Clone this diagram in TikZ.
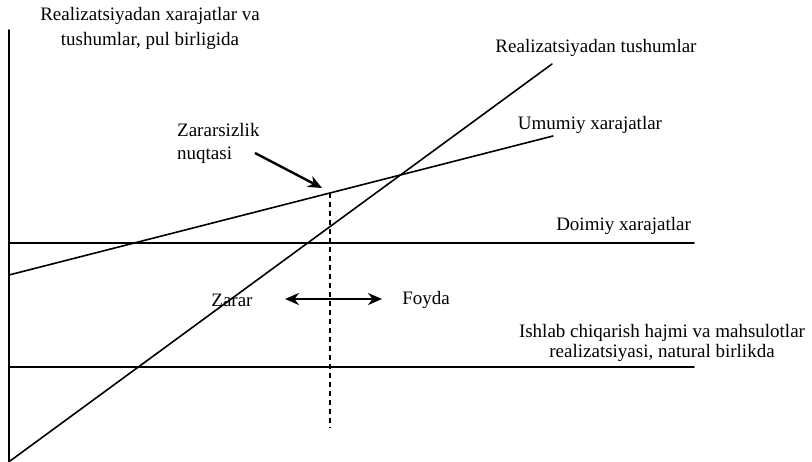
\documentclass[tikz,border=0pt]{standalone}
\usepackage{fontspec}
\setmainfont{Liberation Serif}
\usetikzlibrary{arrows.meta}
\begin{document}
\begin{tikzpicture}[x=1pt,y=-1pt,
  lbl/.style={inner sep=0pt, font=\fontsize{19}{22}\selectfont, align=center},
  ln/.style={line width=1.6pt, line cap=round},
  bigarrow/.style={line width=2.4pt, -{Stealth[length=14pt,width=12pt]}},
  dblarrow/.style={line width=2.4pt, {Stealth[length=14pt,width=12pt]}-{Stealth[length=14pt,width=12pt]}},
  dashline/.style={line width=1.3pt, dash pattern=on 5pt off 4pt}]
\useasboundingbox (0,0) rectangle (812,462);
% axis and lines
\coordinate (ytop) at (9,30);
\coordinate (ybot) at (9,462);
\coordinate (fcL) at (9,243);
\coordinate (fcR) at (694,243);
\coordinate (h2L) at (9,367);
\coordinate (h2R) at (694,367);
\coordinate (tcL) at (9,275);
\coordinate (tcR) at (553,136);
\coordinate (rvL) at (10,461);
\coordinate (rvR) at (552,64);
\coordinate (bep) at (330,193);
\coordinate (bepB) at (330,428);
\coordinate (arrS) at (255,153);
\coordinate (arrT) at (322,188);
\coordinate (dL) at (285,299);
\coordinate (dR) at (382,299);
\draw[ln] (ytop) -- (ybot);
\draw[ln] (fcL) -- (fcR);
\draw[ln] (h2L) -- (h2R);
\draw[ln] (tcL) -- (tcR);
\draw[ln] (rvL) -- (rvR);
\draw[dashline] (bep) -- (bepB);
\draw[bigarrow] (arrS) -- (arrT);
\draw[dblarrow] (dL) -- (dR);
% labels
\node[lbl, font=\fontsize{19}{25}\selectfont] (ylab) at (150,28) {Realizatsiyadan xarajatlar va\\tushumlar, pul birligida};
\node[lbl] (rev) at (596,48) {Realizatsiyadan tushumlar};
\node[lbl] (tc) at (590,125) {Umumiy xarajatlar};
\node[lbl, align=left, anchor=west, font=\fontsize{19}{23}\selectfont] (bepl) at (177,143) {Zararsizlik\\nuqtasi};
\node[lbl, anchor=east] (fc) at (691,226) {Doimiy xarajatlar};
\node[lbl] (zarar) at (232,300) {Zarar};
\node[lbl] (foyda) at (426,300) {Foyda};
\node[lbl, font=\fontsize{19}{20}\selectfont] (xlab) at (662,343) {Ishlab chiqarish hajmi va mahsulotlar\\realizatsiyasi, natural birlikda};
\end{tikzpicture}
\end{document}
